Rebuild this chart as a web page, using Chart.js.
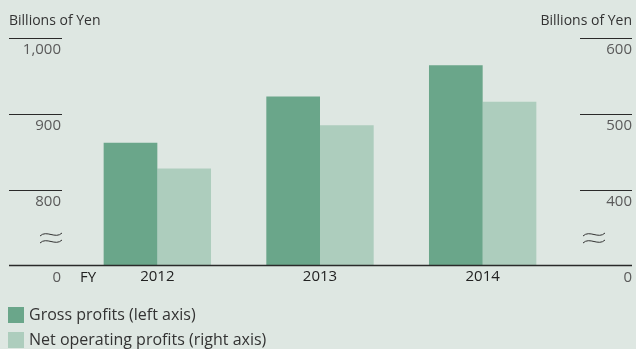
<!DOCTYPE html>
<html lang="en">
<head>
    <meta charset="UTF-8">
    <title>Gross profits and net operating profits</title>
    <style>
        body {
            margin: 0;
            background-color: #dee7e2;
        }
        .wrap {
            position: relative;
            width: 636px;
            height: 349px;
        }
    </style>
</head>
<body>
    <div class="wrap">
        <canvas id="profitChart" width="636" height="349"></canvas>
    </div>
    <script src="https://cdn.jsdelivr.net/npm/chart.js"></script>
    <script>
        // Data
        const years = ['2012', '2013', '2014'];
        const grossProfits = [862, 923, 964];      // left axis, billions of yen
        const netOperating = [428, 485, 516];      // right axis, billions of yen
        const leftTicks = [800, 900, 1000];
        const rightTicks = [400, 500, 600];

        const font = '"Open Sans", Lato, sans-serif';

        // a thin hand drawn "≈" for the axis break
        function breakMark(ctx, x0, y) {
            const w = 22;
            [0, 7].forEach(dy => {
                ctx.beginPath();
                ctx.moveTo(x0, y + dy + 1.5);
                ctx.bezierCurveTo(x0 + w * 0.3, y + dy - 5, x0 + w * 0.7, y + dy + 5, x0 + w, y + dy - 1.5);
                ctx.stroke();
            });
        }

        // draws the broken axes, tick bars, unit titles and legend
        const axisDecor = {
            id: 'axisDecor',
            afterDraw(chart) {
                const ctx = chart.ctx;
                const yL = chart.scales.y;
                const yR = chart.scales.y2;
                const base = chart.chartArea.bottom;
                ctx.save();

                // baseline
                ctx.strokeStyle = '#2a2a2a';
                ctx.lineWidth = 1.5;
                ctx.beginPath();
                ctx.moveTo(9, base);
                ctx.lineTo(632, base);
                ctx.stroke();

                ctx.lineWidth = 1;
                ctx.font = '15px ' + font;
                ctx.fillStyle = '#5a5a5a';
                ctx.textAlign = 'right';
                ctx.textBaseline = 'middle';
                leftTicks.forEach(v => {
                    const y = Math.round(yL.getPixelForValue(v)) + 0.5;
                    ctx.beginPath();
                    ctx.moveTo(9, y);
                    ctx.lineTo(62, y);
                    ctx.stroke();
                    ctx.fillText(v.toLocaleString('en-US'), 61, y + 11);
                });
                rightTicks.forEach(v => {
                    const y = Math.round(yR.getPixelForValue(v)) + 0.5;
                    ctx.beginPath();
                    ctx.moveTo(580, y);
                    ctx.lineTo(632, y);
                    ctx.stroke();
                    ctx.fillText(v.toLocaleString('en-US'), 632, y + 11);
                });

                // zero labels on the broken axes
                ctx.fillText('0', 61, base + 12);
                ctx.fillText('0', 632, base + 12);

                // break marks
                ctx.strokeStyle = '#333';
                breakMark(ctx, 40, base - 31);
                breakMark(ctx, 583, base - 31);

                // FY label
                ctx.fillStyle = '#222';
                ctx.textAlign = 'left';
                ctx.fillText('FY', 80, base + 12);

                // unit titles
                ctx.font = '14px ' + font;
                ctx.fillStyle = '#333';
                ctx.textBaseline = 'alphabetic';
                ctx.fillText('Billions of Yen', 9, 25);
                ctx.textAlign = 'right';
                ctx.fillText('Billions of Yen', 632, 25);

                // legend
                ctx.textAlign = 'left';
                ctx.textBaseline = 'middle';
                ctx.font = '16px ' + font;
                chart.data.datasets.forEach((ds, i) => {
                    const top = 307 + i * 25;
                    ctx.fillStyle = ds.backgroundColor;
                    ctx.fillRect(8, top, 16, 16);
                    ctx.fillStyle = '#333';
                    ctx.fillText(ds.label, 29, top + 8);
                });
                ctx.restore();
            }
        };

        new Chart(document.getElementById('profitChart'), {
            type: 'bar',
            data: {
                labels: years,
                datasets: [
                    {
                        label: 'Gross profits (left axis)',
                        data: grossProfits,
                        backgroundColor: '#6aa68a',
                        yAxisID: 'y'
                    },
                    {
                        label: 'Net operating profits (right axis)',
                        data: netOperating,
                        backgroundColor: '#adcdbd',
                        yAxisID: 'y2'
                    }
                ]
            },
            options: {
                responsive: false,
                animation: false,
                layout: { padding: { left: 76, right: 72, top: 38, bottom: 61.5 } },
                datasets: { bar: { barPercentage: 1, categoryPercentage: 0.66 } },
                plugins: {
                    legend: { display: false },
                    tooltip: { enabled: false }
                },
                scales: {
                    x: {
                        grid: { display: false, drawTicks: false },
                        border: { display: false },
                        ticks: { color: '#222', padding: 2, font: { family: font, size: 15 } }
                    },
                    y: { display: false, min: 700, max: 1000 },
                    y2: { display: false, min: 300, max: 600 }
                }
            },
            plugins: [axisDecor]
        });
    </script>
</body>
</html>
